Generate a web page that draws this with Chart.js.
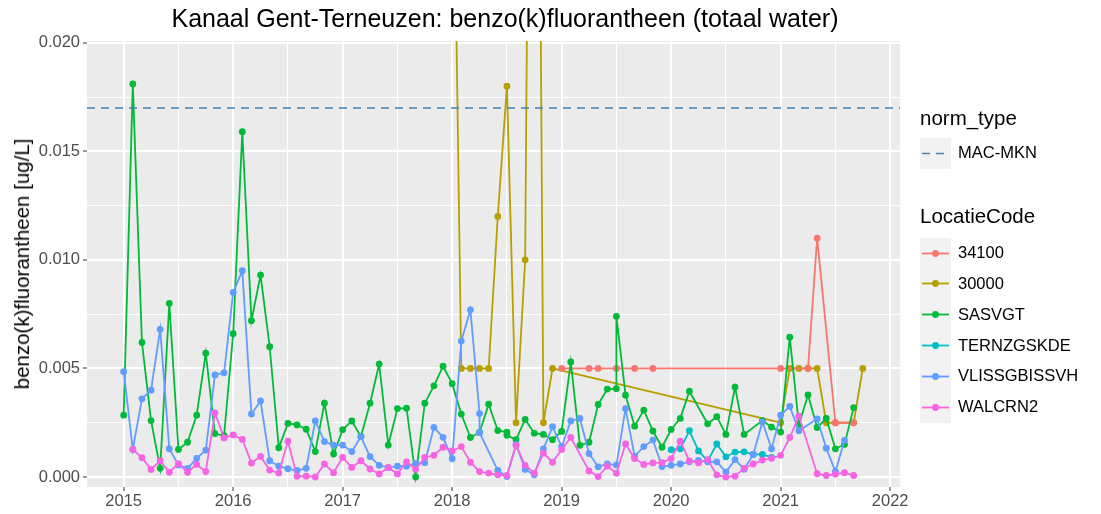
<!DOCTYPE html>
<html>
<head>
<meta charset="utf-8">
<script src="https://cdn.jsdelivr.net/npm/chart.js@4.4.1/dist/chart.umd.min.js"></script>
<style>
  body { margin: 0; background: #fff; }
  #wrap { position: relative; width: 1101px; height: 514px; font-family: "Liberation Sans", Arial, sans-serif; color: #000; }
  #chart { position: absolute; left: 0; top: 0; }
  .txt { position: absolute; white-space: nowrap; }
  .key { position: absolute; background: #F2F2F2; }
</style>
</head>
<body>
<div id="wrap">
  <canvas id="chart" width="1101" height="514"></canvas>
  <div class="txt" style="left:105px; width:800px; top:4px; text-align:center; font-size:25px; line-height:28px;">Kanaal Gent-Terneuzen: benzo(k)fluorantheen (totaal water)</div>
  <div class="txt" style="left:22px; top:264px; font-size:20.5px; transform:translate(-50%,-50%) rotate(-90deg);">benzo(k)fluorantheen [ug/L]</div>
  <div id="legend"></div>
</div>
<script>
// ---- data ----
const MAC_MKN = 0.017;

const dates34100 = ['2019-01', '2019-04', '2019-05', '2019-07', '2019-09', '2019-11',
  '2021-01', '2021-04', '2021-05', '2021-07', '2021-09'];
const values34100 = [0.005, 0.005, 0.005, 0.005, 0.005, 0.005,
  0.005, 0.005, 0.011, 0.0025, 0.0025];

const dates30000 = ['2018-01', '2018-02', '2018-03', '2018-04', '2018-05', '2018-06',
  '2018-07', '2018-08', '2018-09', '2018-10', '2018-11', '2018-12',
  '2021-01', '2021-02', '2021-03', '2021-04', '2021-05', '2021-06', '2021-07', '2021-09', '2021-10'];
const values30000 = [0.034, 0.005, 0.005, 0.005, 0.005, 0.012,
  0.018, 0.0025, 0.010, 0.065, 0.0025, 0.005,
  0.0025, 0.005, 0.005, 0.005, 0.005, 0.0025, 0.0025, 0.0025, 0.005];

const datesSASVGT = [
  '2015-01', '2015-02', '2015-03', '2015-04', '2015-05', '2015-06', '2015-07', '2015-08', '2015-09', '2015-10', '2015-11', '2015-12',
  '2016-01', '2016-02', '2016-03', '2016-04', '2016-05', '2016-06', '2016-07', '2016-08', '2016-09', '2016-10', '2016-11', '2016-12',
  '2017-01', '2017-02', '2017-03', '2017-04', '2017-05', '2017-06', '2017-07', '2017-08', '2017-09', '2017-10', '2017-11', '2017-12',
  '2018-01', '2018-02', '2018-03', '2018-04', '2018-05', '2018-06', '2018-07', '2018-07', '2018-08', '2018-09', '2018-10', '2018-11', '2018-12',
  '2019-01', '2019-02', '2019-03', '2019-04', '2019-05', '2019-06', '2019-07', '2019-07', '2019-08', '2019-09', '2019-10', '2019-11', '2019-12',
  '2020-01', '2020-02', '2020-03', '2020-05', '2020-06', '2020-07', '2020-08', '2020-09', '2020-11', '2020-12',
  '2021-01', '2021-02', '2021-03', '2021-04', '2021-05', '2021-06', '2021-07', '2021-08', '2021-09'];
const valuesSASVGT = [
  0.00285, 0.0181, 0.0062, 0.0026, 0.0004, 0.0080, 0.00127, 0.0016, 0.00285, 0.0057, 0.0020, 0.0019,
  0.0066, 0.0159, 0.0072, 0.0093, 0.0060, 0.00135, 0.00247, 0.0024, 0.0022, 0.00117, 0.0034, 0.00106,
  0.00218, 0.00258, 0.00186, 0.0034, 0.0052, 0.00147, 0.00315, 0.00317, 0.0000, 0.0034, 0.0042, 0.0051,
  0.0043, 0.0029, 0.00182, 0.00205, 0.00335, 0.00214, 0.00207, 0.00192, 0.00172, 0.00265, 0.00202, 0.00196, 0.00172,
  0.0021, 0.0053, 0.00146, 0.0016, 0.00334, 0.00405, 0.00407, 0.0074, 0.00377, 0.00234, 0.00308, 0.00212, 0.00137,
  0.00219, 0.0027, 0.00395, 0.00245, 0.00278, 0.00196, 0.00414, 0.00196, 0.0026, 0.0023,
  0.00207, 0.00644, 0.0024, 0.00378, 0.00228, 0.0027, 0.0013, 0.0015, 0.0032];

const datesTERNZGSKDE = ['2020-01', '2020-02', '2020-03', '2020-04', '2020-05', '2020-06',
  '2020-07', '2020-08', '2020-09', '2020-10', '2020-11', '2020-12'];
const valuesTERNZGSKDE = [0.00126, 0.0013, 0.00213, 0.0012, 0.00074, 0.00152,
  0.00093, 0.00115, 0.00116, 0.00104, 0.00104, 0.0009];

const datesVLISSGBISSVH = [
  '2015-01', '2015-02', '2015-03', '2015-04', '2015-05', '2015-06', '2015-07', '2015-08', '2015-09', '2015-10', '2015-11', '2015-12',
  '2016-01', '2016-02', '2016-03', '2016-04', '2016-05', '2016-06', '2016-07', '2016-08', '2016-09', '2016-10', '2016-11', '2016-12',
  '2017-01', '2017-02', '2017-03', '2017-04', '2017-05', '2017-06', '2017-07', '2017-08', '2017-09', '2017-10', '2017-11', '2017-12',
  '2018-01', '2018-02', '2018-03', '2018-04', '2018-04', '2018-06', '2018-07', '2018-08', '2018-09', '2018-10', '2018-11', '2018-12',
  '2019-01', '2019-02', '2019-03', '2019-04', '2019-05', '2019-06', '2019-07', '2019-08', '2019-09', '2019-10', '2019-11', '2019-12',
  '2020-01', '2020-02', '2020-03', '2020-04', '2020-05', '2020-06', '2020-07', '2020-08', '2020-09', '2020-10', '2020-11', '2020-12',
  '2021-01', '2021-02', '2021-03', '2021-05', '2021-06', '2021-07', '2021-08'];
const valuesVLISSGBISSVH = [
  0.00485, 0.00127, 0.0036, 0.0040, 0.0068, 0.0013, 0.00055, 0.0004, 0.00086, 0.00124, 0.0047, 0.0048,
  0.0085, 0.0095, 0.0029, 0.0035, 0.00075, 0.0005, 0.00038, 0.0003, 0.0004, 0.00258, 0.00163, 0.00147,
  0.00147, 0.00117, 0.00186, 0.00094, 0.00054, 0.00043, 0.0005, 0.0005, 0.00063, 0.00066, 0.00229, 0.00183,
  0.00084, 0.00626, 0.0077, 0.00292, 0.00204, 0.0003, 0.00002, 0.0015, 0.00035, 0.0001, 0.0013, 0.00232,
  0.0014, 0.00258, 0.0027, 0.00108, 0.00047, 0.0006, 0.00055, 0.00315, 0.00095, 0.0014, 0.0017, 0.00048,
  0.00054, 0.0006, 0.0007, 0.00077, 0.0007, 0.0007, 0.00023, 0.0008, 0.00036, 0.00104, 0.00253, 0.0013,
  0.00285, 0.00325, 0.00213, 0.00268, 0.00133, 0.00025, 0.00169];

const datesWALCRN2 = [
  '2015-02', '2015-03', '2015-04', '2015-05', '2015-06', '2015-07', '2015-08', '2015-09', '2015-10', '2015-11', '2015-12',
  '2016-01', '2016-02', '2016-03', '2016-04', '2016-05', '2016-06', '2016-07', '2016-08', '2016-09', '2016-10', '2016-11', '2016-12',
  '2017-01', '2017-02', '2017-03', '2017-04', '2017-05', '2017-06', '2017-07', '2017-08', '2017-09', '2017-10', '2017-11', '2017-12',
  '2018-01', '2018-02', '2018-03', '2018-04', '2018-05', '2018-06', '2018-07', '2018-08', '2018-09', '2018-10', '2018-11', '2018-12',
  '2019-01', '2019-02', '2019-04', '2019-05', '2019-06', '2019-07', '2019-08', '2019-09', '2019-10', '2019-11', '2019-12',
  '2020-01', '2020-02', '2020-03', '2020-04', '2020-05', '2020-06', '2020-07', '2020-08', '2020-09', '2020-10', '2020-11', '2020-12',
  '2021-01', '2021-02', '2021-03', '2021-05', '2021-06', '2021-07', '2021-08', '2021-09'];
const valuesWALCRN2 = [
  0.00127, 0.00089, 0.00035, 0.00075, 0.00022, 0.00062, 0.00022, 0.00058, 0.00025, 0.00295, 0.0018,
  0.00194, 0.00173, 0.00064, 0.00095, 0.00032, 0.00018, 0.00165, 0.00003, 0.00004, 0.0, 0.0006, 0.0002,
  0.0009, 0.00044, 0.00075, 0.00037, 0.00014, 0.00044, 0.00014, 0.0007, 0.00035, 0.0009, 0.001, 0.00137,
  0.0012, 0.0014, 0.00068, 0.00025, 0.00018, 0.0001, 0.00007, 0.00146, 0.00054, 0.00018, 0.0011, 0.00068,
  0.00127, 0.00182, 0.00028, 0.00002, 0.0005, 0.00017, 0.00152, 0.00085, 0.00058, 0.00065, 0.00066,
  0.00085, 0.00165, 0.00074, 0.00065, 0.0008, 0.0001, 0.0, 0.00004, 0.0004, 0.0006, 0.00078, 0.00086,
  0.001, 0.00182, 0.0028, 0.00015, 0.00007, 0.00013, 0.0002, 0.00007];

// axis limits and ticks (major, minor alternating)
const X_MIN = 2014.665, X_MAX = 2022.09;
const Y_MIN = -0.00046, Y_MAX = 0.02008;
const X_TICKS = [2015, 2015.5, 2016, 2016.5, 2017, 2017.5, 2018, 2018.5, 2019, 2019.5, 2020, 2020.5, 2021, 2021.5, 2022];
const Y_TICKS = [0, 0.0025, 0.005, 0.0075, 0.01, 0.0125, 0.015, 0.0175, 0.02];

const FONT = "'Liberation Sans', Arial, sans-serif";

function toYear(d) {
  const [y, m] = d.split('-').map(Number);
  return y + (m - 1) / 12;
}

function points(dates, values) {
  return dates.map((d, i) => ({ x: toYear(d), y: values[i] }));
}

// name, color, dates, values, draw order (higher = further back)
const series = [
  ['34100', '#F8766D', dates34100, values34100, 5],
  ['30000', '#B79F00', dates30000, values30000, 6],
  ['SASVGT', '#00BA38', datesSASVGT, valuesSASVGT, 4],
  ['TERNZGSKDE', '#00BFC4', datesTERNZGSKDE, valuesTERNZGSKDE, 3],
  ['VLISSGBISSVH', '#619CFF', datesVLISSGBISSVH, valuesVLISSGBISSVH, 2],
  ['WALCRN2', '#F564E3', datesWALCRN2, valuesWALCRN2, 1],
];

const datasets = series.map(([name, color, dates, values, order]) => ({
  label: name,
  data: points(dates, values),
  borderColor: color,
  backgroundColor: color,
  pointBackgroundColor: color,
  pointBorderWidth: 0,
  pointRadius: 3.4,
  borderWidth: 1.8,
  tension: 0,
  order: order,
  clip: 0,
}));

datasets.push({
  label: 'MAC-MKN',
  data: [{ x: X_MIN, y: MAC_MKN }, { x: X_MAX, y: MAC_MKN }],
  borderColor: '#4682B4',
  borderWidth: 1.5,
  borderDash: [8, 6],
  pointRadius: 0,
  order: 0,
  clip: 0,
});

const panelBg = {
  id: 'panelBg',
  beforeDraw(chart) {
    const { ctx, chartArea: a } = chart;
    ctx.save();
    ctx.fillStyle = '#EBEBEB';
    ctx.fillRect(a.left, a.top, a.right - a.left, a.bottom - a.top);
    ctx.restore();
  }
};

function gridOpts() {
  return {
    color: '#FFFFFF',
    lineWidth: c => (c.index % 2 ? 1 : 2),
    tickColor: c => (c.index % 2 ? 'rgba(0,0,0,0)' : '#333333'),
    tickWidth: 1,
    tickLength: 4,
  };
}

new Chart(document.getElementById('chart'), {
  type: 'line',
  data: { datasets: datasets },
  plugins: [panelBg],
  options: {
    responsive: false,
    animation: false,
    devicePixelRatio: 1,
    layout: { padding: { left: 0, top: 41, right: 201, bottom: 0 } },
    plugins: { legend: { display: false }, tooltip: { enabled: false } },
    scales: {
      x: {
        type: 'linear',
        min: X_MIN,
        max: X_MAX,
        afterBuildTicks: s => { s.ticks = X_TICKS.map(v => ({ value: v })); },
        afterFit: s => { s.height = 27; },
        border: { display: false },
        grid: gridOpts(),
        ticks: {
          autoSkip: false, maxRotation: 0, padding: 1,
          color: '#4D4D4D', font: { family: FONT, size: 16.5 },
          callback: (v, i) => (i % 2 ? '' : String(v)),
        },
      },
      y: {
        type: 'linear',
        min: Y_MIN,
        max: Y_MAX,
        afterBuildTicks: s => { s.ticks = Y_TICKS.map(v => ({ value: v })); },
        afterFit: s => { s.width = 87; },
        border: { display: false },
        grid: gridOpts(),
        ticks: {
          autoSkip: false, padding: 3,
          color: '#4D4D4D', font: { family: FONT, size: 16.5 },
          callback: (v, i) => (i % 2 ? '' : v.toFixed(3)),
        },
      },
    },
  },
});

// ggplot-style legend (two groups)
const legend = document.getElementById('legend');
function addText(text, left, centerY, size) {
  const el = document.createElement('div');
  el.className = 'txt';
  el.textContent = text;
  el.style.left = left + 'px';
  el.style.top = (centerY - size * 0.6) + 'px';
  el.style.fontSize = size + 'px';
  el.style.lineHeight = (size * 1.2) + 'px';
  legend.appendChild(el);
}
function addKey(top, color, dashed) {
  const el = document.createElement('div');
  el.className = 'key';
  el.style.left = '920px';
  el.style.top = top + 'px';
  el.style.width = '31px';
  el.style.height = '31px';
  const mark = dashed
    ? `<line x1="2" y1="15.5" x2="29" y2="15.5" stroke="${color}" stroke-width="1.5" stroke-dasharray="8 6"/>`
    : `<line x1="2" y1="15.5" x2="29" y2="15.5" stroke="${color}" stroke-width="1.8"/><circle cx="15.5" cy="15.5" r="3.4" fill="${color}"/>`;
  el.innerHTML = `<svg width="31" height="31">${mark}</svg>`;
  legend.appendChild(el);
}

addText('norm_type', 920, 118, 20.5);
addKey(137.5, '#4682B4', true);
addText('MAC-MKN', 958, 153, 16.5);

addText('LocatieCode', 920, 216, 20.5);
series.forEach(([name, color], i) => {
  const top = 237.6 + i * 30.8;
  addKey(top, color, false);
  addText(name, 958, top + 15.4, 16.5);
});
</script>
</body>
</html>
